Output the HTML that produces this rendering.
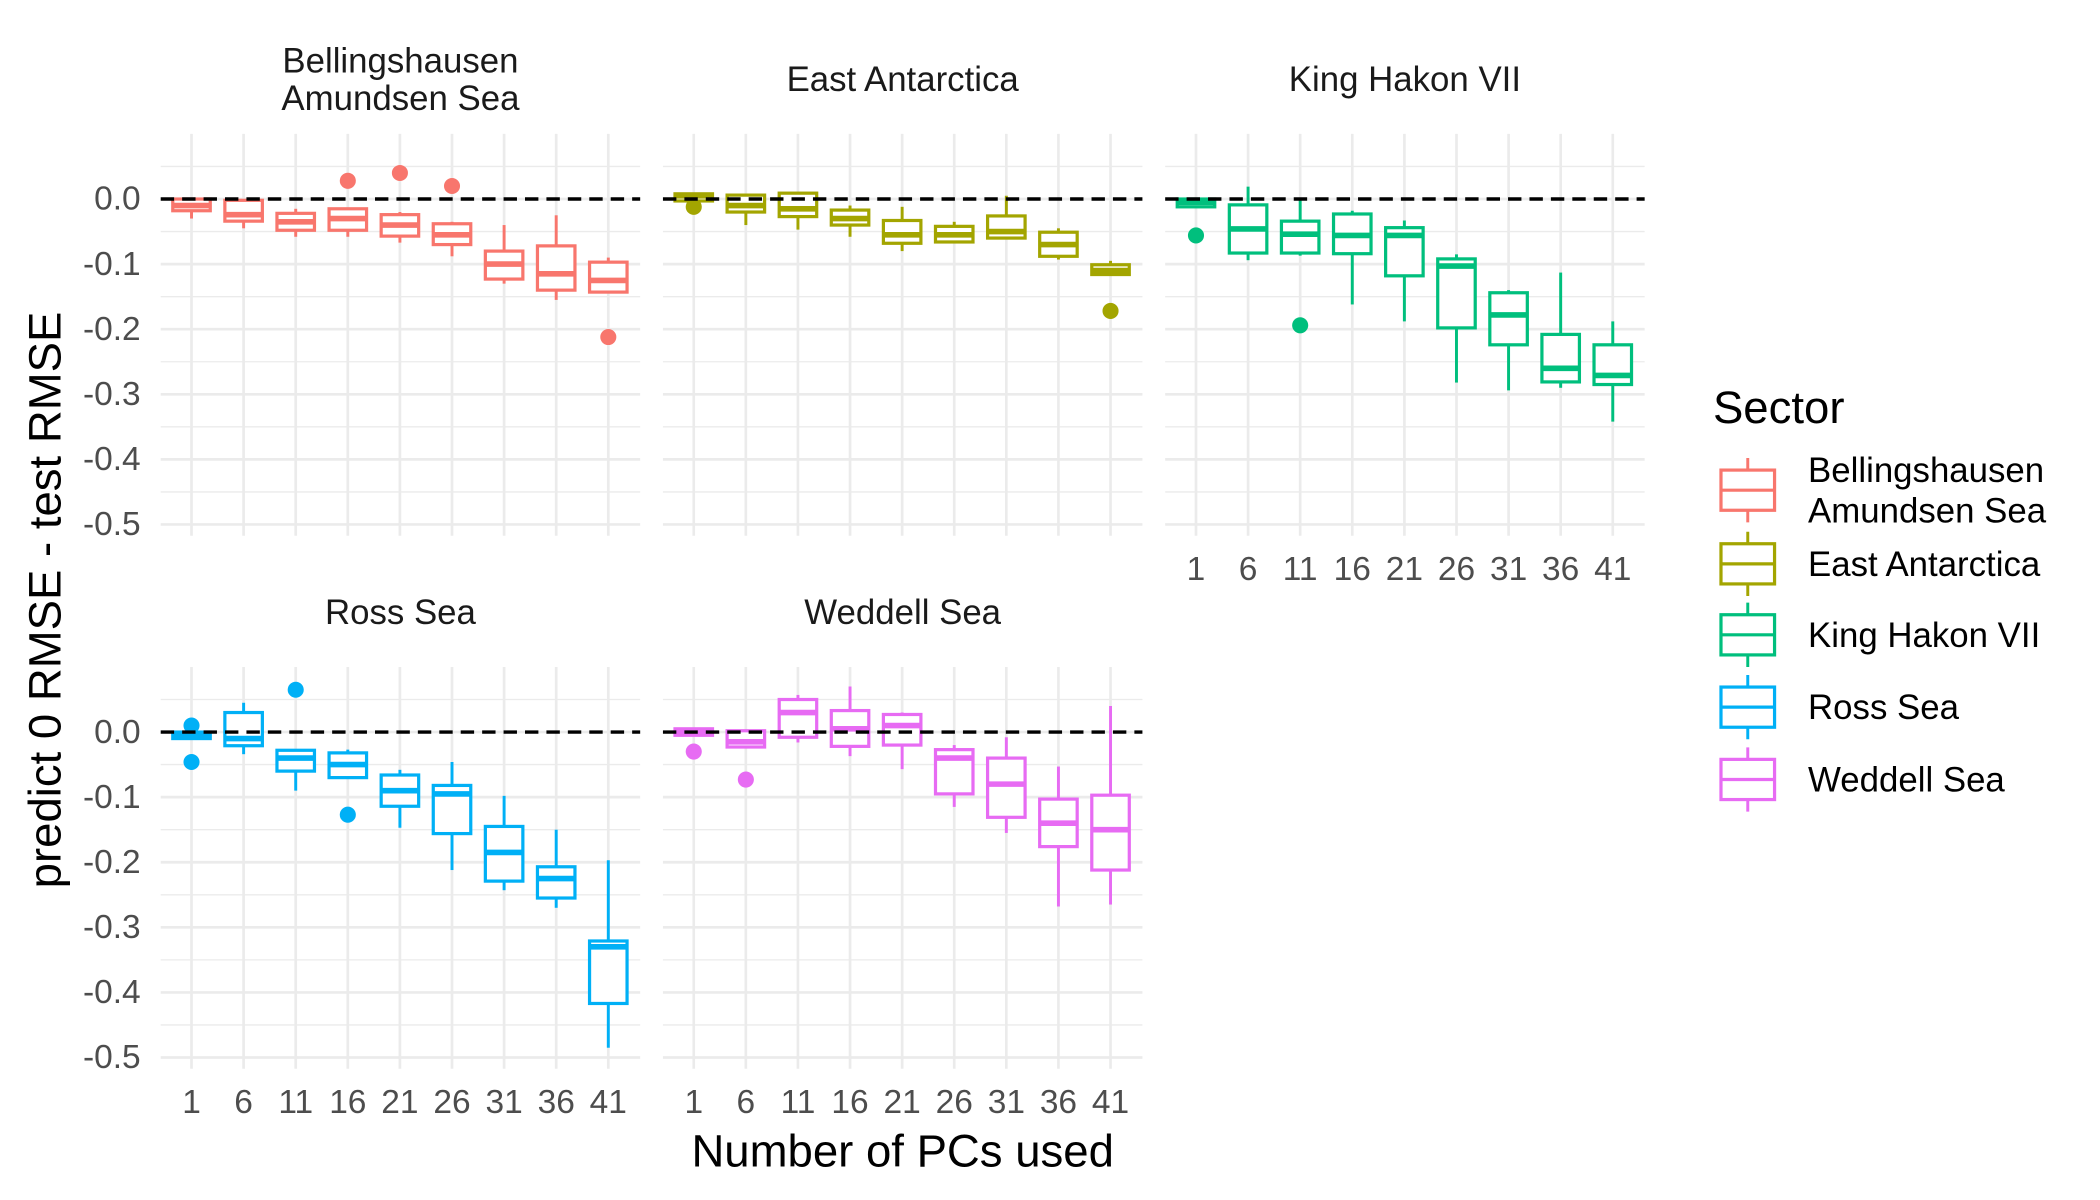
<!DOCTYPE html>
<html><head><meta charset="utf-8"><style>
html,body{margin:0;padding:0;background:#fff}
svg{display:block;font-family:"Liberation Sans",sans-serif}
</style></head><body>
<svg id="chart" width="2100" height="1200" viewBox="0 0 1568 896" preserveAspectRatio="none" xmlns="http://www.w3.org/2000/svg"></svg>
<script>
const categories = ["1","6","11","16","21","26","31","36","41"];
const yTickLabels = ["0.0","-0.1","-0.2","-0.3","-0.4","-0.5"];
const yTickValues = [0,-0.1,-0.2,-0.3,-0.4,-0.5];
const sectorNames = ["Bellingshausen\nAmundsen Sea","East Antarctica","King Hakon VII","Ross Sea","Weddell Sea"];
const sectorColors = ["#F8766D","#A3A500","#00BF7D","#00B0F6","#E76BF3"];
// each box: [lowerWhisker, q1, median, q3, upperWhisker]
const bellBoxes = [[-0.03,-0.018,-0.01,0,0],[-0.045,-0.034,-0.024,-0.002,0],[-0.058,-0.048,-0.035,-0.022,-0.015],[-0.058,-0.048,-0.03,-0.015,-0.015],[-0.067,-0.057,-0.04,-0.024,-0.02],[-0.088,-0.07,-0.055,-0.038,-0.035],[-0.13,-0.123,-0.1,-0.08,-0.04],[-0.155,-0.14,-0.115,-0.072,-0.025],[-0.143,-0.143,-0.125,-0.097,-0.09]];
const bellOutliers = [[],[],[],[0.028],[0.04],[0.02],[],[],[-0.212]];
const eastBoxes = [[-0.003,-0.003,0.005,0.008,0.008],[-0.04,-0.02,-0.01,0.006,0.008],[-0.047,-0.027,-0.015,0.009,0.009],[-0.058,-0.04,-0.03,-0.017,-0.01],[-0.08,-0.068,-0.055,-0.033,-0.012],[-0.066,-0.066,-0.055,-0.042,-0.035],[-0.062,-0.06,-0.05,-0.026,0.005],[-0.093,-0.088,-0.07,-0.051,-0.045],[-0.116,-0.116,-0.11,-0.101,-0.095]];
const eastOutliers = [[-0.012],[],[],[],[],[],[],[],[-0.172]];
const kingBoxes = [[-0.012,-0.012,-0.005,0,0],[-0.094,-0.083,-0.046,-0.009,0.019],[-0.087,-0.083,-0.054,-0.034,0],[-0.162,-0.084,-0.056,-0.023,-0.018],[-0.188,-0.118,-0.056,-0.044,-0.033],[-0.282,-0.198,-0.103,-0.092,-0.085],[-0.294,-0.224,-0.178,-0.144,-0.14],[-0.29,-0.281,-0.26,-0.208,-0.113],[-0.342,-0.285,-0.271,-0.224,-0.188]];
const kingOutliers = [[-0.056],[],[-0.194],[],[],[],[],[],[]];
const rossBoxes = [[-0.01,-0.01,-0.005,0,0],[-0.034,-0.021,-0.01,0.03,0.045],[-0.09,-0.06,-0.04,-0.028,-0.028],[-0.07,-0.07,-0.05,-0.032,-0.027],[-0.147,-0.114,-0.09,-0.066,-0.058],[-0.212,-0.156,-0.095,-0.082,-0.046],[-0.243,-0.229,-0.185,-0.145,-0.098],[-0.27,-0.255,-0.225,-0.207,-0.15],[-0.485,-0.417,-0.33,-0.321,-0.197]];
const rossOutliers = [[0.01,-0.046],[],[0.065],[-0.127],[],[],[],[],[]];
const weddBoxes = [[-0.005,-0.005,0,0.005,0.007],[-0.023,-0.023,-0.015,0.002,0.004],[-0.016,-0.008,0.03,0.05,0.057],[-0.037,-0.022,0.005,0.033,0.07],[-0.057,-0.02,0.01,0.027,0.03],[-0.115,-0.095,-0.04,-0.027,-0.02],[-0.155,-0.131,-0.08,-0.04,-0.008],[-0.268,-0.176,-0.14,-0.103,-0.053],[-0.265,-0.212,-0.15,-0.097,0.04]];
const weddOutliers = [[-0.03],[-0.073],[],[],[],[],[],[],[]];

const NS="http://www.w3.org/2000/svg";
const svg=document.getElementById('chart');
function mk(tag,attrs,parent){const e=document.createElementNS(NS,tag);for(const k in attrs)e.setAttribute(k,attrs[k]);(parent||svg).appendChild(e);return e;}

const panels=[
 {key:'bellingshausen',title:["Bellingshausen","Amundsen Sea"],x0:120,y0:100,boxes:bellBoxes,out:bellOutliers,c:0,xlab:false},
 {key:'east-antarctica',title:["East Antarctica"],x0:495,y0:100,boxes:eastBoxes,out:eastOutliers,c:1,xlab:false},
 {key:'king-hakon',title:["King Hakon VII"],x0:870,y0:100,boxes:kingBoxes,out:kingOutliers,c:2,xlab:true},
 {key:'ross-sea',title:["Ross Sea"],x0:120,y0:498,boxes:rossBoxes,out:rossOutliers,c:3,xlab:true},
 {key:'weddell-sea',title:["Weddell Sea"],x0:495,y0:498,boxes:weddBoxes,out:weddOutliers,c:4,xlab:true}
];
const PW=358, PH=300, YMAX=0.1, PXPER=486;
panels.forEach((p,pi)=>{
  const g=mk('g',{});
  
  
  const ys=v=>p.y0+(YMAX-v)*PXPER;
  const xs=i=>p.x0+23+i*38.9;
  for(let v=0.05;v>-0.56;v-=0.1){const y=ys(v);if(y<p.y0||y>p.y0+PH)continue;mk('line',{x1:p.x0,x2:p.x0+PW,y1:y,y2:y,stroke:'#EBEBEB','stroke-width':1},g);}
  yTickValues.forEach(v=>{const y=ys(v);mk('line',{x1:p.x0,x2:p.x0+PW,y1:y,y2:y,stroke:'#EBEBEB','stroke-width':2},g);});
  categories.forEach((c,i)=>{mk('line',{x1:xs(i),x2:xs(i),y1:p.y0,y2:p.y0+PH,stroke:'#EBEBEB','stroke-width':2},g);});
  p.title.forEach((t,ti)=>{const tt=mk('text',{x:p.x0+PW/2,y:(p.title.length>1?p.y0-46+ti*28:p.y0-32),'font-size':26,fill:'#1A1A1A','text-anchor':'middle'},g);tt.textContent=t;
    });
  if(p.x0===120){yTickValues.forEach((v,i)=>{const t=mk('text',{x:105,y:ys(v)+8,'font-size':25,fill:'#4D4D4D','text-anchor':'end'},g);t.textContent=yTickLabels[i];
    });}
  if(p.xlab){categories.forEach((c,i)=>{const t=mk('text',{x:xs(i),y:p.y0+PH+33,'font-size':25,fill:'#4D4D4D','text-anchor':'middle'},g);t.textContent=c;
    });}
  const col=sectorColors[p.c];
  p.boxes.forEach((b,i)=>{
    const bg=mk('g',{},g);
    
    
    const x=xs(i),w=28;
    mk('line',{x1:x,x2:x,y1:ys(b[0]),y2:ys(b[1]),stroke:col,'stroke-width':2.2},bg);
    mk('line',{x1:x,x2:x,y1:ys(b[3]),y2:ys(b[4]),stroke:col,'stroke-width':2.2},bg);
    mk('rect',{x:x-w/2,y:ys(b[3]),width:w,height:Math.max(ys(b[1])-ys(b[3]),0.5),fill:'#fff',stroke:col,'stroke-width':2.4},bg);
    mk('line',{x1:x-w/2,x2:x+w/2,y1:ys(b[2]),y2:ys(b[2]),stroke:col,'stroke-width':4.2},bg);
    p.out[i].forEach(o=>{const c=mk('circle',{cx:x,cy:ys(o),r:6,fill:col},bg);
      });
  });
  const zl=mk('line',{x1:p.x0,x2:p.x0+PW,y1:ys(0),y2:ys(0),stroke:'#000','stroke-width':2.6,'stroke-dasharray':'10,6'},g);
  
});
const yt=mk('text',{x:0,y:0,'font-size':34,fill:'#000','text-anchor':'middle',transform:'translate(45,448) rotate(-90)'});
yt.textContent='predict 0 RMSE - test RMSE';

const xt=mk('text',{x:674,y:871,'font-size':34,fill:'#000','text-anchor':'middle'});
xt.textContent='Number of PCs used';

const lg=mk('g',{});

const lt=mk('text',{x:1279,y:316,'font-size':34,fill:'#000'},lg);lt.textContent='Sector';

const keyY=[366,421,474,528,582];
sectorNames.forEach((n,i)=>{
  const eg=mk('g',{},lg);
  
  
  const cy=keyY[i],col=sectorColors[i];
  mk('line',{x1:1305,x2:1305,y1:cy-24,y2:cy+24,stroke:col,'stroke-width':2.2},eg);
  mk('rect',{x:1285,y:cy-15,width:40,height:30,fill:'#fff',stroke:col,'stroke-width':2.4},eg);
  mk('line',{x1:1285,x2:1325,y1:cy,y2:cy,stroke:col,'stroke-width':2.4},eg);
  const lines=n.split('\n');
  lines.forEach((l,li)=>{const t=mk('text',{x:1350,y:cy+9+(lines.length>1?(li-0.5)*30:0),'font-size':26,fill:'#000'},eg);t.textContent=l;});
});
</script>
</body></html>
